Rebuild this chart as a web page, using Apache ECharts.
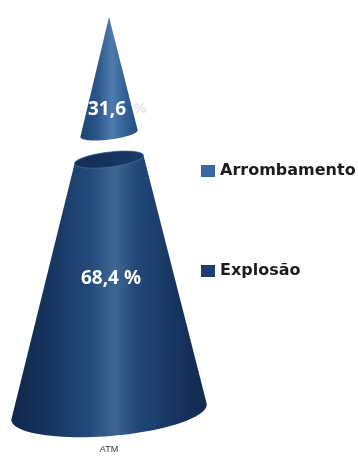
<!DOCTYPE html>
<html>
<head>
<meta charset="utf-8">
<style>html,body{margin:0;padding:0;background:#fff}#c{width:358px;height:457px}</style>
<script src="https://cdn.jsdelivr.net/npm/echarts@6/dist/echarts.min.js"></script>
</head>
<body>
<div id="c"></div>
<script>
const categories = ['ATM'];
const explosao = [68.4];
const arrombamento = [31.6];
const explosaoLabel = '68,4 %';
const arrombamentoLabel = '31,6';
const arrombamentoSuffix = '%';

const chart = echarts.init(document.getElementById('c'), null, {renderer: 'canvas'});

function ellipsePts(cx, cy, rx, ry, tiltDeg, a0, a1) {
  const t = tiltDeg * Math.PI / 180, pts = [], n = 48;
  for (let i = 0; i <= n; i++) {
    const a = (a0 + (a1 - a0) * i / n) * Math.PI / 180;
    const x = rx * Math.cos(a), y = ry * Math.sin(a);
    pts.push([cx + x * Math.cos(t) + y * Math.sin(t), cy - x * Math.sin(t) + y * Math.cos(t)]);
  }
  return pts;
}
function grad(stops) {
  return {type: 'linear', x: 0, y: 0, x2: 1, y2: 0, colorStops: stops};
}

function renderLower(params, api) {
  const i = api.value(0), v = api.value(1);
  const base = api.coord([i, 0]), top = api.coord([i, v]);
  const band = api.size([1, 0])[0];
  const R = band * 0.45;
  const rTop = R * (100 - v) / 100 * 1.12;
  const low = ellipsePts(base[0], base[1], R, 24, 4.7, 180, 0);
  const up = ellipsePts(top[0], top[1], rTop, 7.5, 7, 0, -180);
  const lid = ellipsePts(top[0], top[1], rTop, 7.5, 7, 0, 360);
  const midY = base[1] + (top[1] - base[1]) * 0.53;
  return {type: 'group', children: [
    {type: 'polygon', shape: {points: low.concat(up)}, style: {
      fill: grad([
        {offset: 0, color: '#10274a'}, {offset: 0.2, color: '#17355f'},
        {offset: 0.4, color: '#234a7b'}, {offset: 0.53, color: '#3f6593'},
        {offset: 0.64, color: '#214877'}, {offset: 0.85, color: '#163460'},
        {offset: 1, color: '#11294d'}
      ])}},
    {type: 'polygon', shape: {points: lid}, style: {
      fill: grad([{offset: 0, color: '#132c53'}, {offset: 1, color: '#1a3b69'}]),
      stroke: '#4a7099', lineWidth: 0.7}},
    {type: 'text', x: top[0] + 2, y: midY, style: {
      text: explosaoLabel, fill: '#fff', font: 'bold 19px "Open Sans", sans-serif',
      align: 'center', verticalAlign: 'middle'}}
  ]};
}

function renderUpper(params, api) {
  const gap = 26;
  const i = api.value(0), v0 = api.value(2), v = api.value(1);
  const b = api.coord([i, v0]), tip = api.coord([i, v0 + v]);
  const band = api.size([1, 0])[0];
  const R = band * 0.45 * (100 - v0) / 100 * 0.93;
  const cy = b[1] - gap, ty = tip[1] - gap;
  const low = ellipsePts(b[0], cy, R, 6, 7, 180, 0);
  const labelY = cy + (ty - cy) * 0.21;
  return {type: 'group', children: [
    {type: 'polygon', shape: {points: low.concat([[tip[0], ty]])}, style: {
      fill: grad([
        {offset: 0, color: '#1d4373'}, {offset: 0.3, color: '#2b568c'},
        {offset: 0.55, color: '#507bae'}, {offset: 0.75, color: '#346499'},
        {offset: 1, color: '#234c80'}
      ])}},
    {type: 'text', x: b[0] - 2, y: labelY, style: {
      text: arrombamentoLabel, fill: '#fff', font: 'bold 19px "Open Sans", sans-serif',
      align: 'center', verticalAlign: 'middle'}},
    {type: 'text', x: b[0] + 31, y: labelY, style: {
      text: arrombamentoSuffix, fill: '#ece8e4', font: 'bold 15px "Open Sans", sans-serif',
      align: 'center', verticalAlign: 'middle'}}
  ]};
}

chart.setOption({
  animation: false,
  backgroundColor: '#fff',
  legend: {
    orient: 'vertical', left: 201, top: 163, padding: 0, itemWidth: 14, itemHeight: 12, itemGap: 84,
    icon: 'rect', selectedMode: false,
    data: ['Arrombamento', 'Explosão'],
    textStyle: {fontFamily: '"DejaVu Sans", sans-serif', fontWeight: 'bold', fontSize: 16, color: '#1c1c1c'},
    itemStyle: {borderWidth: 0}
  },
  grid: {left: 0, width: 218, top: 43, height: 369},
  xAxis: {
    type: 'category', data: categories,
    axisLine: {show: false}, axisTick: {show: false},
    axisLabel: {margin: 33, fontSize: 9, color: '#333', fontFamily: '"Liberation Sans", sans-serif'}
  },
  yAxis: {type: 'value', min: 0, max: 100, show: false, splitLine: {show: false}},
  series: [
    {name: 'Explosão', type: 'custom', renderItem: renderLower,
     itemStyle: {color: '#1c3f70'},
     encode: {x: 0, y: 1},
     data: explosao.map((v, i) => [i, v])},
    {name: 'Arrombamento', type: 'custom', renderItem: renderUpper,
     itemStyle: {color: '#3a68a5'},
     encode: {x: 0, y: 1},
     data: arrombamento.map((v, i) => [i, v, explosao[i]])}
  ]
});
</script>
</body>
</html>
